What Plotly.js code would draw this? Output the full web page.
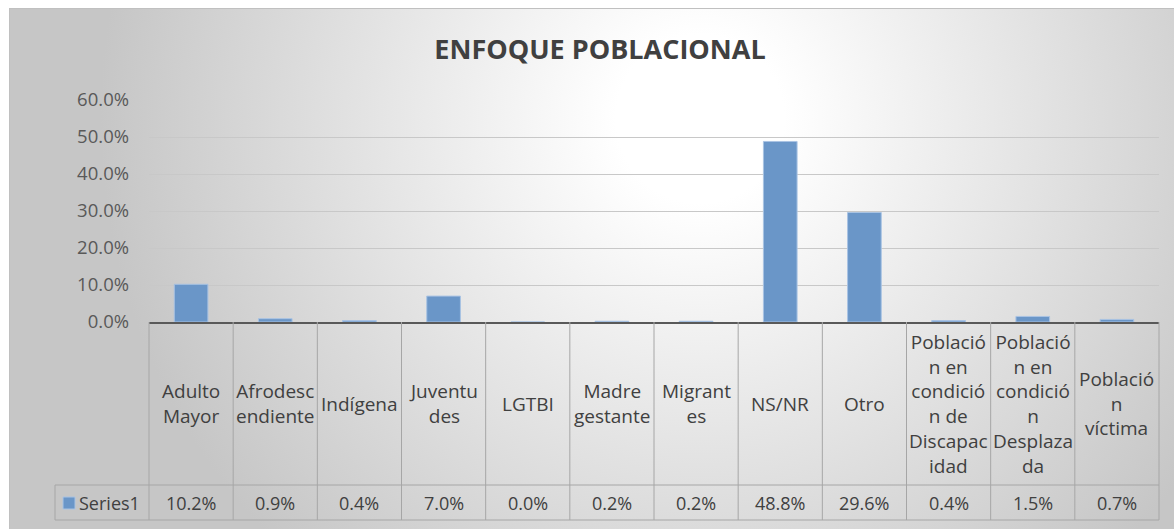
<!DOCTYPE html>
<html>
<head>
<meta charset="utf-8">
<script src="https://cdn.plot.ly/plotly-3.0.1.min.js"></script>
<style>
  html, body { margin: 0; padding: 0; background: #ffffff; }
  #bg {
    position: absolute; left: 9px; top: 8px; width: 1165px; height: 521px;
    border-top: 1px solid #c0c0c0; border-left: 1px solid #c0c0c0;
    background: radial-gradient(ellipse 600px 600px at 690px 110px, #ffffff 0%, #ffffff 14%, #c6c6c6 100%);
  }
  #chart { position: absolute; left: 0; top: 0; width: 1174px; height: 529px; }
</style>
</head>
<body>
<div id="bg"></div>
<div id="chart"></div>
<script>
// ---- data ----
const categories = ["Adulto Mayor", "Afrodescendiente", "Indígena", "Juventudes", "LGTBI",
  "Madre gestante", "Migrantes", "NS/NR", "Otro",
  "Población en condición de Discapacidad", "Población en condición Desplazada", "Población víctima"];
const headerLabels = ["Adulto<br>Mayor", "Afrodesc<br>endiente", "Indígena", "Juventu<br>des", "LGTBI",
  "Madre<br>gestante", "Migrant<br>es", "NS/NR", "Otro",
  "Població<br>n en<br>condició<br>n de<br>Discapac<br>idad",
  "Població<br>n en<br>condició<br>n<br>Desplaza<br>da",
  "Població<br>n<br>víctima"];
const seriesName = "Series1";
const values = [10.2, 0.9, 0.4, 7.0, 0.0, 0.2, 0.2, 48.8, 29.6, 0.4, 1.5, 0.7];
const titleText = "ENFOQUE POBLACIONAL";

// ---- layout geometry (pixels) ----
const W = 1174, H = 529;
const mL = 149, mR = 15, mT = 100, mB = 207;
const plotW = W - mL - mR, plotH = H - mT - mB;
const py = Y => (H - mB - Y) / plotH;      // pixel row -> paper y
const px = X => (X - mL) / plotW;          // pixel col -> paper x

const headerBottom = 485, tableBottom = 520, legendLeft = 55;
const FONT = "Open Sans, Lato, sans-serif";
const textColor = "#404040";
const cellLine = { color: "#a6a6a6", width: 1 };
const n = categories.length;

const shapes = [];
for (let i = 0; i <= n; i++) {
  shapes.push({ type: "line", xref: "paper", yref: "paper", x0: i / n, x1: i / n,
    y0: 0, y1: py(tableBottom), line: cellLine });
}
shapes.push({ type: "line", xref: "paper", yref: "paper", x0: px(legendLeft), x1: 1,
  y0: py(headerBottom), y1: py(headerBottom), line: cellLine });
shapes.push({ type: "line", xref: "paper", yref: "paper", x0: px(legendLeft), x1: 1,
  y0: py(tableBottom), y1: py(tableBottom), line: cellLine });
shapes.push({ type: "line", xref: "paper", yref: "paper", x0: px(legendLeft), x1: px(legendLeft),
  y0: py(headerBottom), y1: py(tableBottom), line: cellLine });
shapes.push({ type: "rect", xref: "paper", yref: "paper", x0: px(63), x1: px(75),
  y0: py(509), y1: py(497), fillcolor: "#6a96c8", line: { color: "#a9c3e3", width: 1 } });

const annotations = [];
const midHeader = py((H - mB + headerBottom) / 2);
const midRow = py((headerBottom + tableBottom) / 2);
categories.forEach((c, i) => {
  annotations.push({ xref: "x", yref: "paper", x: i, y: midHeader, text: headerLabels[i],
    showarrow: false, xanchor: "center", yanchor: "middle", align: "center",
    font: { family: FONT, size: 19, color: textColor } });
  annotations.push({ xref: "x", yref: "paper", x: i, y: midRow, text: values[i].toFixed(1) + "%",
    showarrow: false, xanchor: "center", yanchor: "middle",
    font: { family: FONT, size: 18, color: textColor } });
});
annotations.push({ xref: "paper", yref: "paper", x: px(77), y: midRow, text: seriesName,
  showarrow: false, xanchor: "left", yanchor: "middle",
  font: { family: FONT, size: 18, color: textColor } });

const trace = {
  type: "bar",
  x: categories,
  y: values.map(v => v / 100),
  name: seriesName,
  marker: { color: "#6a96c8", line: { color: "#a9c3e3", width: 1 } },
  hoverinfo: "skip"
};

const layout = {
  width: W, height: H,
  margin: { l: mL, r: mR, t: mT, b: mB, pad: 0 },
  paper_bgcolor: "rgba(0,0,0,0)",
  plot_bgcolor: "rgba(0,0,0,0)",
  showlegend: false,
  bargap: 0.6,
  title: { text: "<b>" + titleText + "</b>", xref: "container", yref: "container",
    x: 600 / W, y: 1 - 50 / H, xanchor: "center", yanchor: "middle",
    font: { family: FONT, size: 27, color: textColor } },
  xaxis: { type: "category", range: [-0.5, n - 0.5], showticklabels: false, ticks: "",
    showgrid: false, showline: true, linecolor: "#595959", linewidth: 2, zeroline: false,
    fixedrange: true },
  yaxis: { range: [0, 0.6], dtick: 0.1, tick0: 0, tickformat: ".1%", showgrid: true,
    gridcolor: "#c8c8c8", gridwidth: 1, zeroline: false, showline: false, ticks: "",
    ticklabelstandoff: 19,
    tickfont: { family: FONT, size: 18.5, color: "#595959" }, fixedrange: true },
  shapes: shapes,
  annotations: annotations,
  hovermode: false
};

Plotly.newPlot("chart", [trace], layout, { displayModeBar: false, staticPlot: true });
</script>
</body>
</html>
